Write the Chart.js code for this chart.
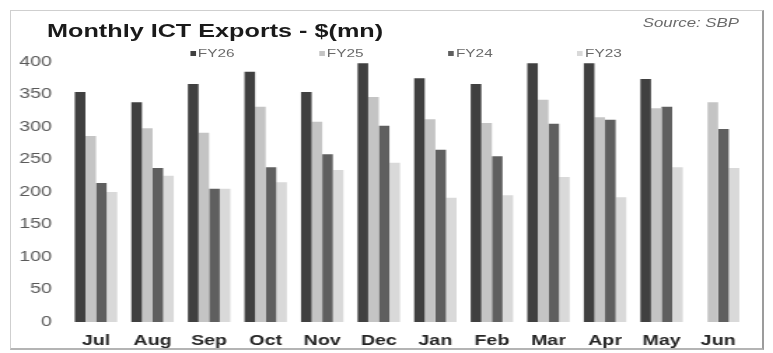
<!DOCTYPE html>
<html>
<head>
<meta charset="utf-8">
<script src="https://cdn.jsdelivr.net/npm/chart.js@4"></script>
<style>
  html, body { margin: 0; padding: 0; background: #fff; }
  #page { position: relative; width: 773px; height: 353px; overflow: hidden; background: #fff; }
  #frame { position: absolute; left: 10px; top: 10px; width: 751px; height: 337px;
           border-top: 1px solid #cfcfcf; border-left: 1px solid #cfcfcf;
           border-right: 2px solid #9c9c9c; border-bottom: 2px solid #b4b4b4; }
  #wrap { position: absolute; left: 0; top: 0; width: 552px; height: 360px;
          transform: scaleX(1.4004); transform-origin: 0 0; }
  #c { position: absolute; left: 0; top: 0; }
  #title { position: absolute; left: 33.6px; top: 21.5px; font: bold 18px/18px "Liberation Sans", Arial, sans-serif;
           color: #1a1a1a; white-space: nowrap; }
  #source { position: absolute; left: 459px; top: 17px; font: italic 12px/12px "Liberation Sans", Arial, sans-serif;
            color: #6a6a6a; white-space: nowrap; }
  #legend { position: absolute; left: 135.7px; top: 46px; display: flex; }
  #legend .item { width: 92.2px; display: flex; align-items: center; height: 14px;
                  font: 11px/14px "Liberation Sans", Arial, sans-serif; color: #6a6a6a; white-space: nowrap; }
  #legend .sw { width: 4px; height: 5px; margin-right: 1.5px; display: inline-block; }
</style>
</head>
<body>
<div id="page">
  <div id="frame"></div>
  <div id="wrap">
    <canvas id="c" width="552" height="360"></canvas>
    <div id="title">Monthly ICT Exports - $(mn)</div>
    <div id="source">Source: SBP</div>
    <div id="legend"></div>
  </div>
</div>
<script>
const categories = ['Jul','Aug','Sep','Oct','Nov','Dec','Jan','Feb','Mar','Apr','May','Jun'];
const seriesNames = ['FY26','FY25','FY24','FY23'];
const fy26 = [354, 338, 366, 385, 354, 398, 375, 366, 398, 398, 374, null];
const fy25 = [286, 298, 291, 331, 308, 346, 312, 306, 342, 315, 329, 338];
const fy24 = [214, 237, 205, 238, 258, 302, 265, 255, 305, 311, 331, 297];
const fy23 = [200, 225, 205, 215, 234, 245, 191, 195, 223, 192, 238, 237];
const yTicks = [0, 50, 100, 150, 200, 250, 300, 350, 400];

const seriesValues = [fy26, fy25, fy24, fy23];
const seriesColors = ['#404040', '#c4c4c4', '#5f5f5f', '#d9d9d9'];

const chart = new Chart(document.getElementById('c'), {
  type: 'bar',
  data: {
    labels: categories,
    datasets: seriesNames.map((name, i) => ({
      label: name,
      data: seriesValues[i],
      backgroundColor: seriesColors[i],
      borderWidth: 0,
      categoryPercentage: 0.75,
      barPercentage: 1.0
    }))
  },
  options: {
    responsive: false,
    animation: false,
    layout: { padding: { left: 2.4, right: 19, top: 62, bottom: 0 } },
    plugins: {
      legend: { display: false },
      title: { display: false },
      tooltip: { enabled: false }
    },
    scales: {
      x: {
        grid: { display: false, drawTicks: false },
        border: { display: false },
        ticks: {
          padding: 10.6,
          color: '#262626',
          font: { family: '"Liberation Sans", Arial, sans-serif', size: 14, weight: 'bold' }
        }
      },
      y: {
        min: yTicks[0],
        max: yTicks[yTicks.length - 1],
        grid: { display: false, drawTicks: false },
        border: { display: false },
        afterBuildTicks: (axis) => { axis.ticks = yTicks.map(v => ({ value: v })); },
        ticks: {
          padding: 11.3,
          color: '#5a5a5a',
          font: { family: '"Liberation Sans", Arial, sans-serif', size: 14 }
        }
      }
    }
  }
});

const legend = document.getElementById('legend');
chart.data.datasets.forEach(ds => {
  const item = document.createElement('div');
  item.className = 'item';
  const sw = document.createElement('span');
  sw.className = 'sw';
  sw.style.background = ds.backgroundColor;
  item.appendChild(sw);
  item.appendChild(document.createTextNode(ds.label));
  legend.appendChild(item);
});
</script>
</body>
</html>
